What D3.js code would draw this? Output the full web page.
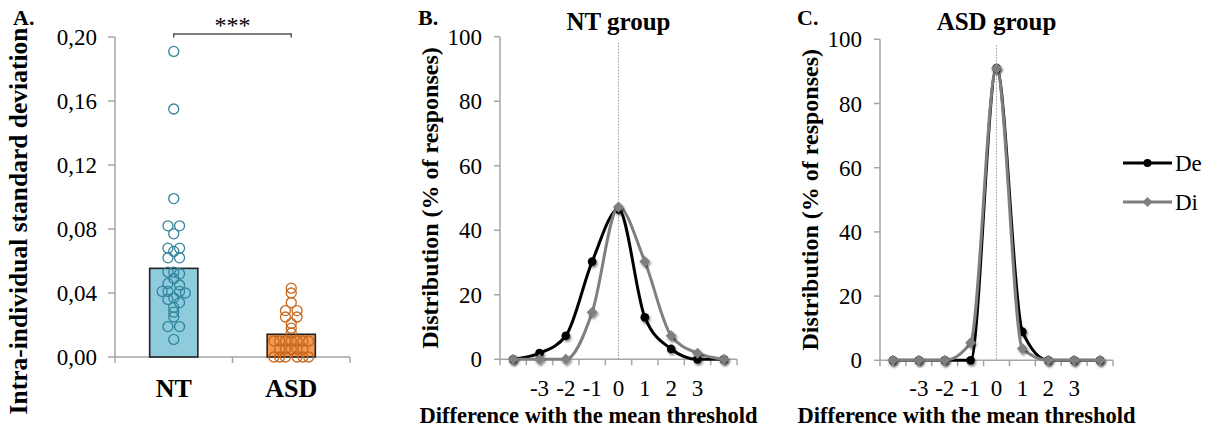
<!DOCTYPE html>
<html>
<head>
<meta charset="utf-8">
<script src="https://cdn.jsdelivr.net/npm/d3@7"></script>
<style>
  body { margin: 0; background: #fff; }
  svg text { font-family: "Liberation Serif", serif; font-weight: 400; fill: #000; }
  svg text.b { font-weight: 700; }
</style>
</head>
<body>
<svg id="fig" width="1213" height="430"></svg>
<script>
// ---- data: panel A (intra-individual SD)
const groups = ["NT", "ASD"];
const groupMeans = [0.0554, 0.0142];
const ntValues = [0.191, 0.155, 0.099, 0.082, 0.082, 0.077, 0.068, 0.068, 0.066, 0.062,
  0.062, 0.053, 0.053, 0.052, 0.049, 0.046, 0.045, 0.041, 0.041, 0.041,
  0.040, 0.037, 0.036, 0.034, 0.031, 0.028, 0.025, 0.019, 0.019, 0.011];
const asdValues = [0.043, 0.040, 0.034, 0.029, 0.029, 0.025, 0.025, 0.021, 0.018, 0.015,
  0.010, 0.010, 0.010, 0.010, 0.010, 0.010, 0.010,
  0.005, 0.005, 0.005, 0.005, 0.005,
  0.000, 0.000, 0.000, 0.000, 0.000, 0.000];
const sdTicks = [0, 0.04, 0.08, 0.12, 0.16, 0.20];

// ---- data: panels B and C (distribution of responses)
const diffCats = [-4, -3, -2, -1, 0, 1, 2, 3, 4];
const diffLabels = ["", "-3", "-2", "-1", "0", "1", "2", "3", ""];
const pctTicks = [0, 20, 40, 60, 80, 100];
const ntDe = [0, 1.9, 7.3, 30.3, 46.5, 13.0, 3.2, 0, 0];
const ntDi = [0, 0, 0, 14.6, 47.2, 30.3, 7.3, 1.9, 0];
const asdDe = [0, 0, 0, 0, 91, 8.9, 0, 0, 0];
const asdDi = [0, 0, 0, 5.5, 91, 3.7, 0, 0, 0];
const seriesNames = ["De", "Di"];

const AXIS = "#a6a6a6";
const svg = d3.select("#fig");

const defs = svg.append("defs");
defs.append("filter").attr("id", "shadow")
  .attr("x", "-50%").attr("y", "-50%").attr("width", "200%").attr("height", "200%")
  .append("feDropShadow")
  .attr("dx", 1.2).attr("dy", 2).attr("stdDeviation", 1.3)
  .attr("flood-color", "#000").attr("flood-opacity", 0.45);

function commaFmt(v) { return d3.format(".2f")(v).replace(".", ","); }

// spread dots with (near) equal values sideways
function dodge(values, binSize) {
  const bins = d3.group(values, v => Math.round(v / binSize));
  const out = [];
  bins.forEach(arr => {
    const n = arr.length;
    arr.forEach((v, i) => {
      let k;
      if (n % 2) k = i === 0 ? 0 : Math.ceil(i / 2) * (i % 2 ? -1 : 1);
      else k = (Math.floor(i / 2) + 1) * (i % 2 ? 1 : -1);
      out.push({ v: v, k: k });
    });
  });
  return out;
}

/* ================= Panel A ================= */
(function panelA() {
  const x = d3.scaleBand().domain(groups).range([115, 350])
    .paddingInner(0.59).paddingOuter(0.295);
  const y = d3.scaleLinear().domain([0, 0.2]).range([357, 37]);
  const g = svg.append("g");

  // y axis
  g.append("line").attr("x1", 115).attr("x2", 115).attr("y1", y(0.2)).attr("y2", y(0))
    .attr("stroke", AXIS).attr("stroke-width", 1.5);
  g.selectAll(".yt").data(sdTicks).enter().append("line")
    .attr("x1", 108).attr("x2", 115).attr("y1", d => y(d)).attr("y2", d => y(d))
    .attr("stroke", AXIS).attr("stroke-width", 1.5);
  g.selectAll(".yl").data(sdTicks).enter().append("text")
    .attr("x", 97).attr("y", d => y(d)).attr("dy", "0.35em")
    .attr("text-anchor", "end").style("font-size", "23px")
    .text(commaFmt);

  // x axis
  const step = x.step();
  g.append("line").attr("x1", 115).attr("x2", 115 + step * groups.length)
    .attr("y1", y(0)).attr("y2", y(0)).attr("stroke", AXIS).attr("stroke-width", 1.5);
  g.selectAll(".xt").data(d3.range(groups.length + 1)).enter().append("line")
    .attr("x1", i => 115 + i * step).attr("x2", i => 115 + i * step)
    .attr("y1", y(0)).attr("y2", y(0) + 6).attr("stroke", AXIS).attr("stroke-width", 1.5);

  // bars
  const barFill = ["#8dcbdd", "#f29a52"];
  const dotStroke = ["#31859c", "#c8681f"];
  g.selectAll(".bar").data(groups).enter().append("rect")
    .attr("x", d => x(d)).attr("width", x.bandwidth())
    .attr("y", (d, i) => y(groupMeans[i]))
    .attr("height", (d, i) => y(0) - y(groupMeans[i]))
    .attr("fill", (d, i) => barFill[i]).attr("stroke", "#222").attr("stroke-width", 1.6);

  // individual dots
  [ntValues, asdValues].forEach((vals, gi) => {
    const cx = x(groups[gi]) + x.bandwidth() / 2;
    g.selectAll(".dot" + gi).data(dodge(vals, 0.0025)).enter().append("circle")
      .attr("cx", d => cx + d.k * 5.8).attr("cy", d => y(d.v)).attr("r", 5)
      .attr("fill", "none").attr("stroke", dotStroke[gi]).attr("stroke-width", 1.3);
  });

  // category labels
  g.selectAll(".xl").data(groups).enter().append("text").attr("class", "b")
    .attr("x", d => x(d) + x.bandwidth() / 2).attr("y", 397)
    .attr("text-anchor", "middle").style("font-size", "26px")
    .text(d => d);

  // significance bracket
  const x1 = x(groups[0]) + x.bandwidth() / 2, x2 = x(groups[1]) + x.bandwidth() / 2;
  g.append("path").attr("d", `M${x1},37.5V34H${x2}V37.5`)
    .attr("fill", "none").attr("stroke", "#555").attr("stroke-width", 1.5);
  g.append("text").attr("x", (x1 + x2) / 2).attr("y", 33).attr("text-anchor", "middle")
    .style("font-size", "24px").text("***");

  // axis title & panel letter
  g.append("text").attr("class", "b").attr("transform", "translate(27,221) rotate(-90)")
    .attr("text-anchor", "middle").style("font-size", "25.5px")
    .text("Intra-individual standard deviation");
  g.append("text").attr("class", "b").attr("x", 13).attr("y", 25).style("font-size", "22px")
    .text("A.");
})();

/* ================= Panels B & C ================= */
function drawDist(o) {
  const x = d3.scaleBand().domain(diffCats).range([o.x0, o.x1]);
  const y = d3.scaleLinear().domain([0, 100]).range([o.yb, o.yt]);
  const g = svg.append("g");
  const cx = d => x(d) + x.bandwidth() / 2;

  // dotted zero line
  g.append("line").attr("x1", cx(0)).attr("x2", cx(0)).attr("y1", o.yt + 6).attr("y2", y(0))
    .attr("stroke", "#999").attr("stroke-width", 1).attr("stroke-dasharray", "1.5,1.5");

  // y axis
  g.append("line").attr("x1", o.x0).attr("x2", o.x0).attr("y1", y(100)).attr("y2", y(0))
    .attr("stroke", AXIS).attr("stroke-width", 1.5);
  g.selectAll(".yt").data(pctTicks).enter().append("line")
    .attr("x1", o.x0 - 6).attr("x2", o.x0).attr("y1", d => y(d)).attr("y2", d => y(d))
    .attr("stroke", AXIS).attr("stroke-width", 1.5);
  g.selectAll(".yl").data(pctTicks).enter().append("text")
    .attr("x", o.x0 - 18).attr("y", d => y(d)).attr("dy", "0.35em")
    .attr("text-anchor", "end").style("font-size", "23px").text(d => d);

  // x axis
  g.append("line").attr("x1", o.x0).attr("x2", o.x1).attr("y1", y(0)).attr("y2", y(0))
    .attr("stroke", AXIS).attr("stroke-width", 1.5);
  const edges = diffCats.map(d => x(d)).concat([o.x1]);
  g.selectAll(".xt").data(edges).enter().append("line")
    .attr("x1", d => d).attr("x2", d => d).attr("y1", y(0)).attr("y2", y(0) + 6)
    .attr("stroke", AXIS).attr("stroke-width", 1.5);
  g.selectAll(".xl").data(diffCats).enter().append("text")
    .attr("x", d => cx(d)).attr("y", 396).attr("text-anchor", "middle")
    .style("font-size", "23px").text((d, i) => diffLabels[i]);

  // series
  const line = d3.line().x((d, i) => cx(diffCats[i])).y(d => y(d))
    .curve(d3.curveMonotoneX);
  const colors = ["#000", "#7f7f7f"];
  [o.de, o.di].forEach((vals, si) => {
    g.append("path").datum(vals).attr("d", line)
      .attr("fill", "none").attr("stroke", colors[si]).attr("stroke-width", 3);
    g.selectAll(".m" + si).data(vals).enter().append("path")
      .attr("transform", (d, i) => `translate(${cx(diffCats[i])},${y(d)})`)
      .attr("d", si === 0 ? d3.symbol(d3.symbolCircle, 60)() : "M0,-5.5L5.5,0L0,5.5L-5.5,0Z")
      .attr("fill", colors[si]).attr("filter", "url(#shadow)");
  });

  // titles
  g.append("text").attr("class", "b").attr("x", cx(0)).attr("y", 30).attr("text-anchor", "middle")
    .style("font-size", "25px").text(o.title);
  g.append("text").attr("class", "b").attr("x", o.letterX).attr("y", 25)
    .style("font-size", "22px").text(o.letter);
  g.append("text").attr("class", "b")
    .attr("transform", `translate(${o.x0 - 62},${(o.yt + o.yb) / 2}) rotate(-90)`)
    .attr("text-anchor", "middle").style("font-size", "24px")
    .text("Distribution (% of responses)");
  g.append("text").attr("class", "b").attr("x", (o.x0 + o.x1) / 2 - 30).attr("y", 423)
    .attr("text-anchor", "middle").style("font-size", "22.5px")
    .text("Difference with the mean threshold");
}

drawDist({ x0: 500, x1: 737, yb: 359.3, yt: 36.7, de: ntDe, di: ntDi,
  title: "NT group", letter: "B.", letterX: 418 });
drawDist({ x0: 880, x1: 1113, yb: 360.3, yt: 39.3, de: asdDe, di: asdDi,
  title: "ASD group", letter: "C.", letterX: 797 });

/* ================= Legend ================= */
const legend = svg.append("g");
const legendY = d3.scalePoint().domain(seriesNames).range([163, 202]);
const legColors = ["#000", "#7f7f7f"];
seriesNames.forEach((name, i) => {
  const ly = legendY(name);
  legend.append("line").attr("x1", 1123).attr("x2", 1172).attr("y1", ly).attr("y2", ly)
    .attr("stroke", legColors[i]).attr("stroke-width", 3);
  legend.append("path").attr("transform", `translate(1147.5,${ly})`)
    .attr("d", i === 0 ? d3.symbol(d3.symbolCircle, 50)() : "M0,-5L5,0L0,5L-5,0Z")
    .attr("fill", legColors[i]);
  legend.append("text").attr("x", 1175).attr("y", ly).attr("dy", "0.35em")
    .style("font-size", "23px").text(name);
});
</script>
</body>
</html>
